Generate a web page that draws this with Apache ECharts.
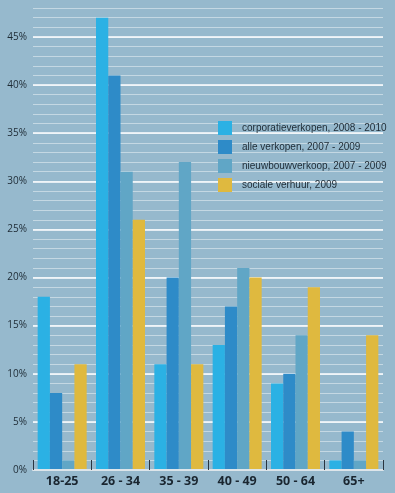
<!DOCTYPE html>
<html><head><meta charset="utf-8">
<script src="https://cdn.jsdelivr.net/npm/echarts@6/dist/echarts.min.js"></script>
<style>html,body{margin:0;padding:0;background:#96b9cd;}#c{width:395px;height:493px;}</style>
</head><body><div id="c"></div>
<script>
const categories = ['18-25', '26 - 34', '35 - 39', '40 - 49', '50 - 64', '65+'];
const corporatie = [18, 47, 11, 13, 9, 1];
const alleVerkopen = [8, 41, 20, 17, 10, 4];
const nieuwbouw = [1, 31, 32, 21, 14, 1];
const socialeVerhuur = [11, 26, 11, 20, 19, 14];
const seriesNames = ['corporatieverkopen, 2008 - 2010', 'alle verkopen, 2007 - 2009', 'nieuwbouwverkoop, 2007 - 2009', 'sociale verhuur, 2009'];
const yMax = 48;
const yMajorMax = 45;

const chart = echarts.init(document.getElementById('c'), null, {renderer: 'canvas'});
const colors = ['#2bb1e4', '#2e8bc8', '#60a6c6', '#dfb93f'];
const data = [corporatie, alleVerkopen, nieuwbouw, socialeVerhuur];
const perUnit = (493 - 8 - 23) / yMax;
chart.setOption({
  backgroundColor: '#96b9cd',
  animation: false,
  color: colors,
  legend: {
    left: 213, top: 116, orient: 'vertical',
    itemWidth: 14, itemHeight: 14, itemGap: 5,
    icon: 'rect',
    textStyle: {fontFamily: "'Liberation Sans', sans-serif", fontSize: 10, color: '#1e2b35', padding: [0, 0, 0, 5]},
    data: seriesNames
  },
  grid: [
    {left: 33, right: 12, top: 8, bottom: 23},
    {left: 33, right: 12, top: 8 + (yMax - yMajorMax) * perUnit, bottom: 23}
  ],
  xAxis: [
    {
      type: 'category', data: categories, gridIndex: 0,
      axisLine: {show: true, lineStyle: {color: '#dde5ea', width: 2}},
      axisTick: {show: true, inside: true, length: 10, lineStyle: {color: '#2a3540', width: 1}},
      axisLabel: {color: '#1a2630', fontSize: 12.5, fontWeight: 'bold', fontFamily: "'Open Sans', sans-serif", margin: 5},
      z: 5
    },
    {type: 'category', data: categories, gridIndex: 1, show: false}
  ],
  yAxis: [
    {
      type: 'value', gridIndex: 0, min: 0, max: yMax, interval: 1,
      axisLine: {show: false}, axisTick: {show: false},
      axisLabel: {
        color: '#1e2b35', fontSize: 10, fontFamily: "'Open Sans', sans-serif", margin: 6,
        formatter: v => (v % 5 === 0 ? v + '%' : '')
      },
      splitLine: {lineStyle: {color: '#c4d8e3', width: 1}}
    },
    {
      type: 'value', gridIndex: 1, min: 0, max: yMajorMax, interval: 5,
      axisLine: {show: false}, axisTick: {show: false}, axisLabel: {show: false},
      splitLine: {lineStyle: {color: '#ffffff', width: 1.5}}
    }
  ],
  series: seriesNames.map((name, i) => ({
    name, type: 'bar', data: data[i], xAxisIndex: 0, yAxisIndex: 0,
    barGap: '0%', barCategoryGap: '16%', z: 3,
    itemStyle: {color: colors[i]}
  }))
});
</script></body></html>
